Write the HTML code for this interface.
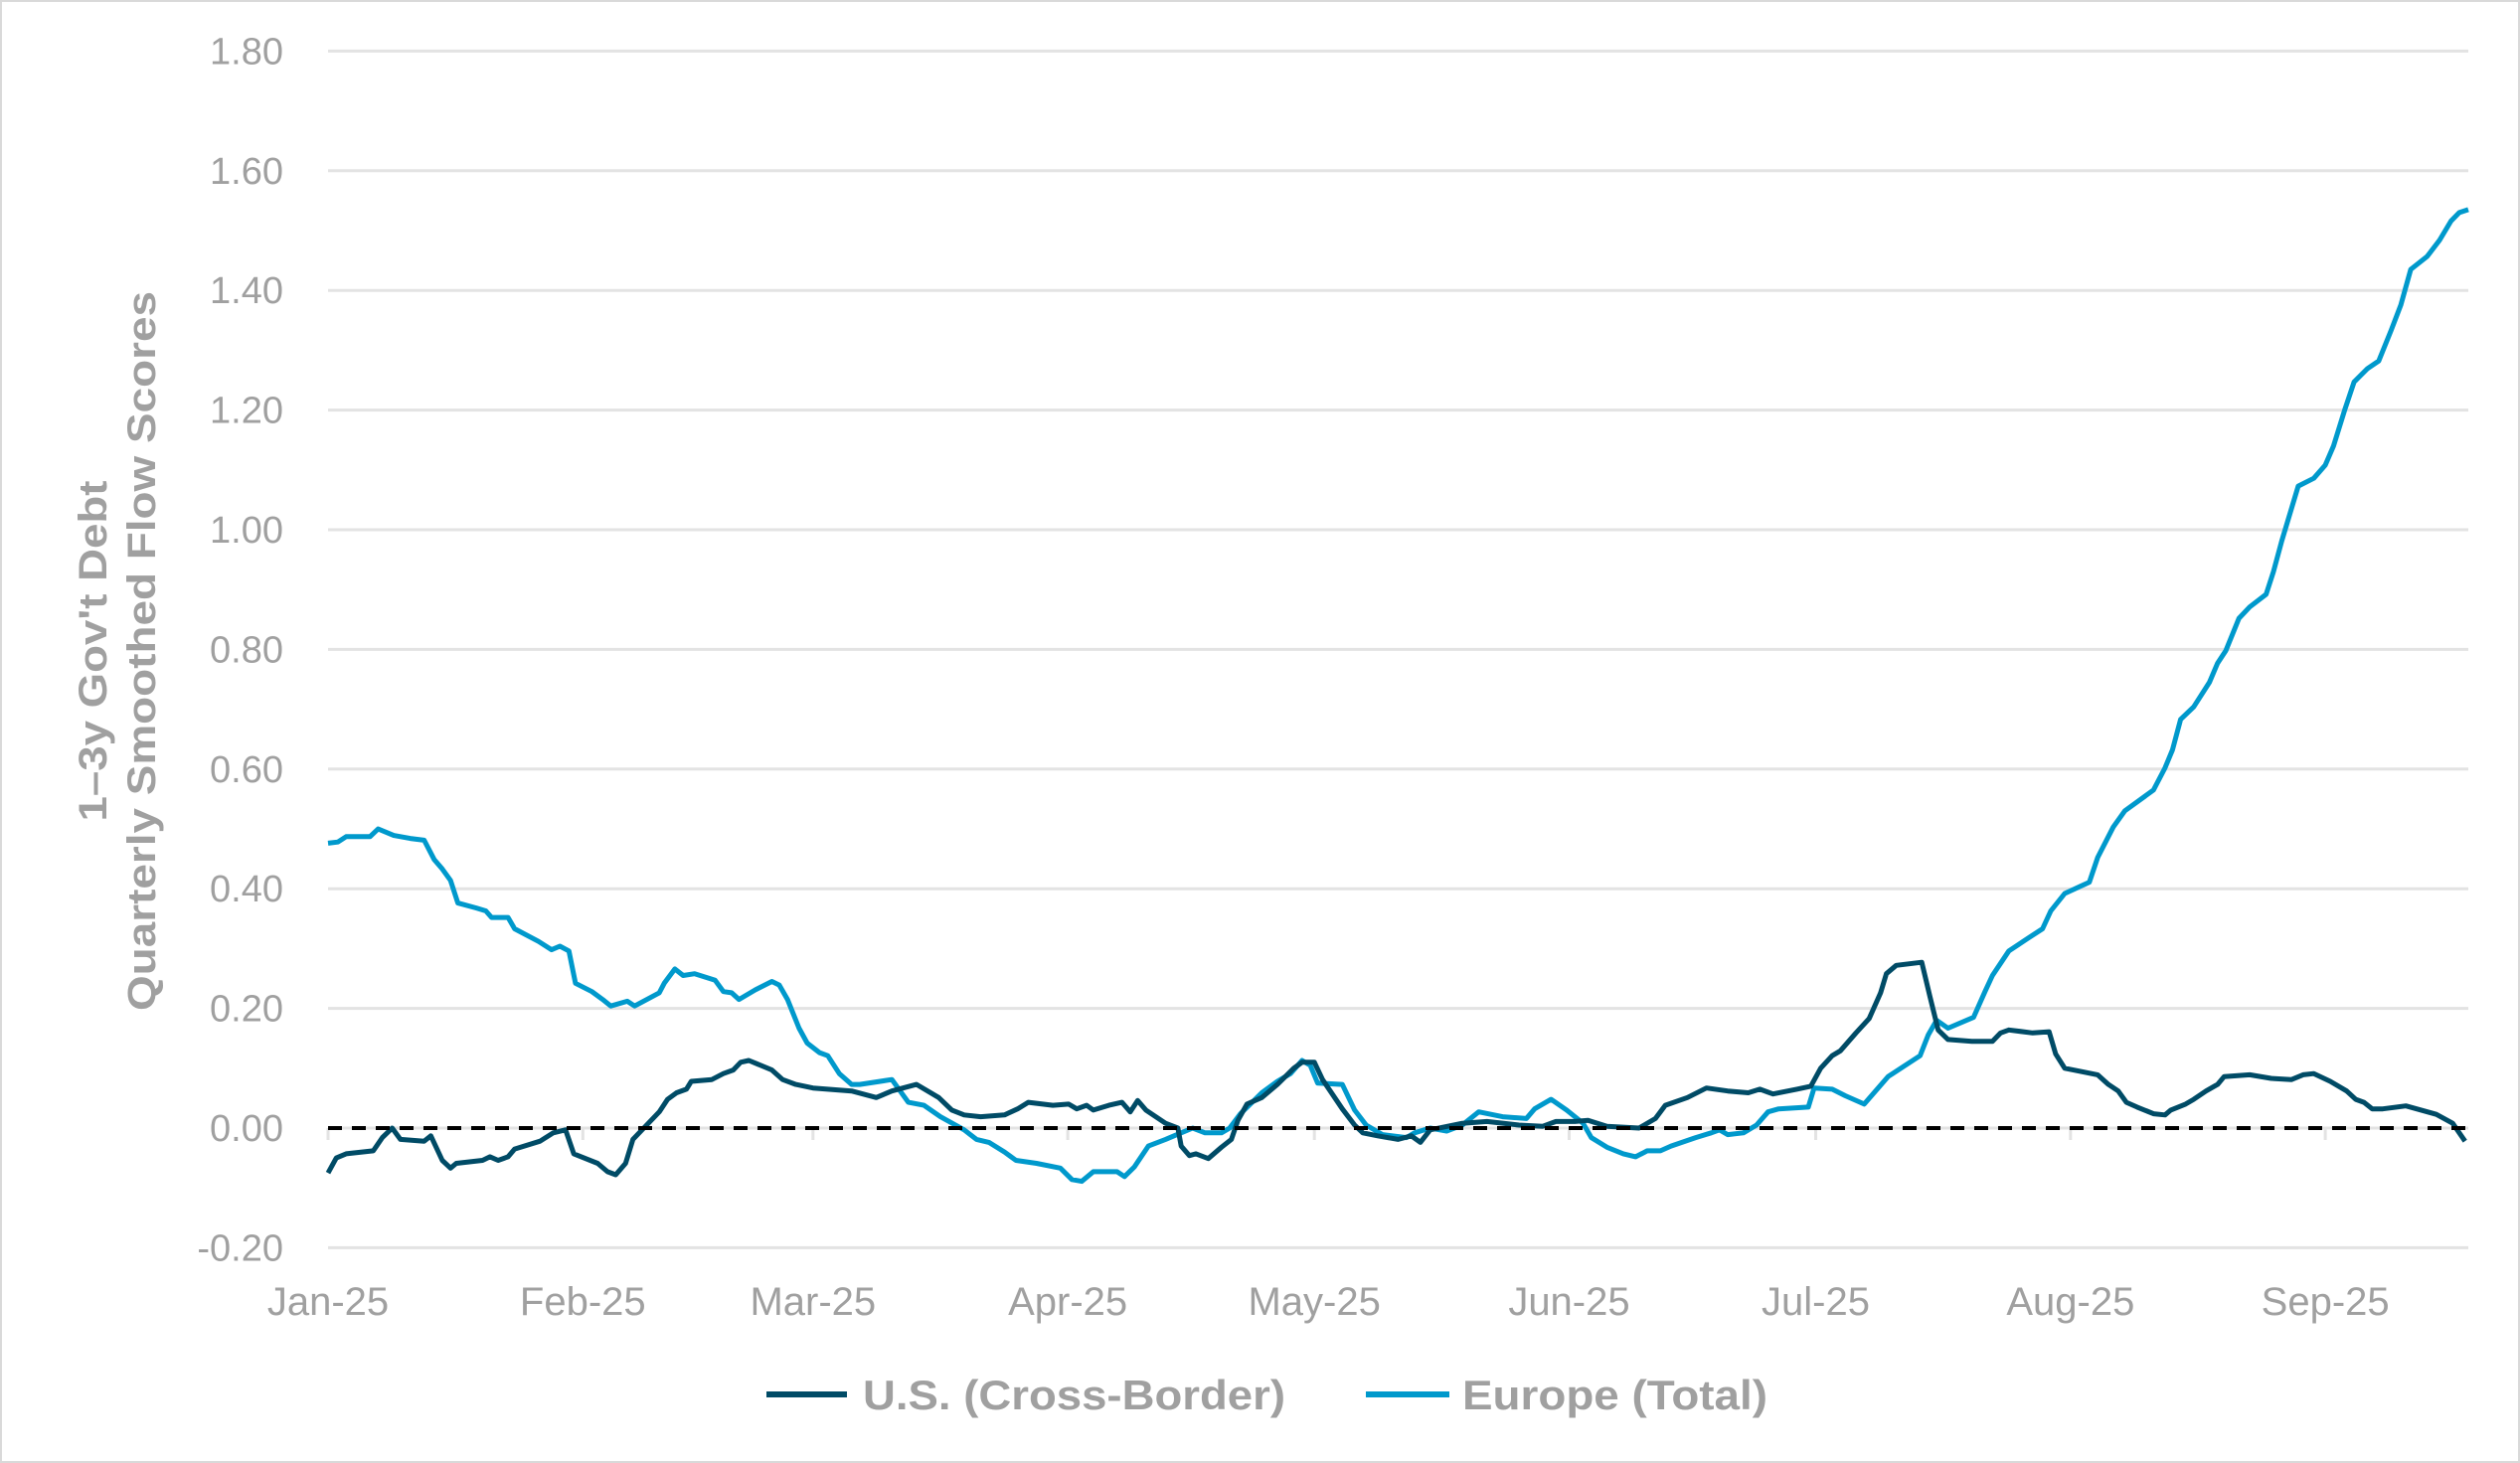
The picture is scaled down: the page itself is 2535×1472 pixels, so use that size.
<!DOCTYPE html>
<html><head><meta charset="utf-8"><style>
html,body{margin:0;padding:0;background:#fff;}
svg{display:block;}
</style></head><body>
<svg id="chart" width="2535" height="1472" viewBox="0 0 2535 1472" xmlns="http://www.w3.org/2000/svg">
<rect x="1" y="1" width="2533" height="1470" fill="#fff" stroke="#d9d9d9" stroke-width="2"/>
<g id="grid"></g>
<g id="yticks"></g>
<g id="xticks"></g>
<g id="series"></g>
<g font-family="'Liberation Sans Narrow','Liberation Sans',sans-serif" font-weight="bold" font-size="40" fill="#a0a0a0" text-anchor="middle">
<text transform="translate(107,655) rotate(-90)" textLength="343" lengthAdjust="spacingAndGlyphs">1–3y Gov't Debt</text>
<text transform="translate(156,655) rotate(-90)" textLength="724" lengthAdjust="spacingAndGlyphs">Quarterly Smoothed Flow Scores</text>
</g>
<g font-family="'Liberation Sans',sans-serif" font-weight="bold" font-size="42" fill="#a0a0a0">
<g>
<line x1="771" y1="1403" x2="852" y2="1403" stroke="#004b66" stroke-width="6"/>
<text x="868" y="1418" textLength="425" lengthAdjust="spacingAndGlyphs">U.S. (Cross-Border)</text>
</g>
<g>
<line x1="1374" y1="1403" x2="1458" y2="1403" stroke="#0099cc" stroke-width="6"/>
<text x="1471" y="1418" textLength="307" lengthAdjust="spacingAndGlyphs">Europe (Total)</text>
</g>
</g>
</svg>
<script>
const yTickValues=[-0.2,0,0.2,0.4,0.6,0.8,1.0,1.2,1.4,1.6,1.8];
const monthLabels=["Jan-25","Feb-25","Mar-25","Apr-25","May-25","Jun-25","Jul-25","Aug-25","Sep-25"];
const monthStartDays=[0,31,59,90,120,151,181,212,243];
const usDays=[0,1,2.2,5.5,6.6,7.8,8.8,11.7,12.5,13.9,14.9,15.6,18.8,19.7,20.7,21.9,22.7,25.8,27.4,28.9,29.9,32.8,34,35,36.2,37.1,40.3,41.3,42.4,43.6,44.2,46.7,48.1,49.3,50.2,51.2,54,55.3,56.9,59,63.7,66.7,68.6,71.6,74.3,75.9,77.4,79.4,82.3,83.9,85.2,88.2,90.1,91.1,92.3,93.1,95,96.6,97.6,98.5,99.5,101.9,103.4,103.8,104.8,105.6,107.1,108.7,109.9,110.7,111.8,113.6,115.5,117.5,118.5,120,121,123.4,124.9,125.9,127.7,130.2,131.8,132.9,134.1,138,141,144.9,147.8,149.4,151.7,153.3,155.6,159.5,161.5,162.7,165.4,167.7,170.3,172.8,174.2,175.8,178.7,180.4,181.6,183,184,185.9,187.5,188.9,189.6,190.8,193.9,194.9,195.9,197.1,200,202.5,203.5,204.5,207.4,209.4,210.2,211.3,213.5,215.3,216.6,217.8,218.8,220.1,222.1,223.5,224.2,226,227,228.5,229.9,230.7,233.8,236.4,238.9,240.3,241.6,243.6,245.6,246.7,247.7,248.7,250,252.8,256.5,258.5,260];
const usValues=[-0.075,-0.05,-0.043,-0.038,-0.016,0,-0.019,-0.022,-0.013,-0.054,-0.067,-0.059,-0.054,-0.048,-0.054,-0.048,-0.035,-0.022,-0.008,-0.003,-0.043,-0.059,-0.073,-0.078,-0.059,-0.019,0.027,0.048,0.059,0.065,0.078,0.081,0.091,0.097,0.11,0.113,0.097,0.081,0.073,0.067,0.062,0.051,0.062,0.073,0.051,0.03,0.022,0.019,0.022,0.032,0.043,0.038,0.04,0.032,0.038,0.03,0.038,0.043,0.027,0.046,0.03,0.008,0,-0.03,-0.046,-0.043,-0.051,-0.032,-0.019,0.013,0.04,0.051,0.073,0.1,0.11,0.11,0.081,0.032,0.005,-0.008,-0.013,-0.019,-0.013,-0.024,-0.003,0.008,0.011,0.005,0.003,0.011,0.011,0.013,0.003,0,0.016,0.038,0.051,0.067,0.062,0.059,0.065,0.057,0.065,0.07,0.1,0.121,0.129,0.159,0.183,0.226,0.258,0.272,0.277,0.22,0.164,0.148,0.145,0.145,0.159,0.164,0.159,0.161,0.124,0.1,0.094,0.089,0.073,0.062,0.043,0.035,0.024,0.022,0.03,0.04,0.048,0.062,0.073,0.086,0.089,0.083,0.081,0.089,0.091,0.078,0.062,0.048,0.043,0.032,0.032,0.037,0.023,0.008,-0.022];
const euDays=[0,1.2,2.2,5.1,6.1,8,10,11.7,12.9,13.9,14.9,15.8,18,19.2,19.9,21.9,22.7,25.6,27.2,28.2,29.3,30.1,32.1,33.4,34.4,36.4,37.3,40.3,40.9,42.2,43.2,44.6,47.1,48.1,49.1,50,52,54,54.9,55.9,57.3,58.3,59.8,60.8,62.2,63.7,64.7,68.6,70.6,72.5,74.5,77.4,78.9,80.4,82.3,83.7,86.2,89.1,90.5,91.7,93.1,96,96.9,98.1,99.8,101.9,103.8,105.2,106.7,108.7,109.7,111,113.6,115.5,117.1,118.5,119.5,120.4,123.4,124.9,126.3,128.3,131.2,132.2,134.1,136.1,138,140,142.9,145.8,146.8,148.8,150.7,152.7,153.7,155.6,157.6,159.1,160.5,162.1,163.4,166.4,168.3,169.3,170.3,172.2,173.8,175.2,176.5,180.1,180.8,183,184.6,186.9,189.8,193.7,194.7,195.7,197.1,200.2,201.6,202.5,204.5,206.8,208.6,209.6,211.3,214.3,215.3,217.2,218.6,222.1,223.5,224.4,225.4,227,228.9,229.9,230.9,232.5,233.8,235.8,236.7,237.7,239.7,241.6,243,244,245.4,246.5,248.1,249.5,251,252.2,253.4,255.4,256.9,258.3,259.3,260.4];
const euValues=[0.476,0.478,0.487,0.487,0.5,0.489,0.484,0.481,0.449,0.433,0.414,0.376,0.368,0.363,0.352,0.352,0.333,0.312,0.298,0.304,0.296,0.242,0.228,0.215,0.204,0.212,0.204,0.226,0.242,0.266,0.255,0.258,0.247,0.228,0.226,0.215,0.231,0.245,0.239,0.215,0.167,0.142,0.126,0.121,0.091,0.073,0.073,0.081,0.043,0.038,0.019,-0.003,-0.019,-0.024,-0.04,-0.054,-0.059,-0.067,-0.086,-0.089,-0.073,-0.073,-0.081,-0.065,-0.03,-0.019,-0.008,0,-0.008,-0.008,0,0.024,0.059,0.078,0.091,0.113,0.105,0.075,0.073,0.03,0.005,-0.011,-0.016,-0.008,0,-0.005,0.005,0.027,0.019,0.016,0.032,0.048,0.03,0.008,-0.016,-0.032,-0.043,-0.048,-0.038,-0.038,-0.03,-0.016,-0.008,-0.003,-0.011,-0.008,0.005,0.027,0.032,0.035,0.067,0.065,0.054,0.04,0.086,0.121,0.156,0.18,0.167,0.185,0.228,0.255,0.296,0.317,0.333,0.363,0.392,0.411,0.452,0.503,0.53,0.565,0.602,0.632,0.683,0.704,0.745,0.777,0.798,0.852,0.871,0.892,0.93,0.981,1.073,1.086,1.108,1.14,1.202,1.247,1.269,1.282,1.333,1.376,1.435,1.457,1.484,1.516,1.53,1.535];

const NS='http://www.w3.org/2000/svg';
const X0=330,X1=2483,DMAX=260.4,Y0=1135,PX_PER_UNIT=602;
function xScale(d){return X0+(d/DMAX)*(X1-X0);}
function yScale(v){return Y0-v*PX_PER_UNIT;}
function mk(tag,attrs,parent){const e=document.createElementNS(NS,tag);for(const k in attrs)e.setAttribute(k,attrs[k]);parent.appendChild(e);return e;}
const grid=document.getElementById('grid'),yt=document.getElementById('yticks'),xt=document.getElementById('xticks'),ser=document.getElementById('series');
yTickValues.forEach(v=>{
  const l=mk('line',{x1:X0,x2:X1,y1:yScale(v),y2:yScale(v),stroke:'#e3e3e3','stroke-width':3},grid);
  
  
  const t=mk('text',{x:285,y:yScale(v)+13,'text-anchor':'end','font-family':"'Liberation Sans',sans-serif",'font-size':38,fill:'#a0a0a0'},yt);
  t.textContent=v.toFixed(2);
  
  
});
monthLabels.forEach((m,i)=>{
  const x=xScale(monthStartDays[i]);
  const tk=mk('line',{x1:x,x2:x,y1:Y0,y2:Y0+12,stroke:'#e3e3e3','stroke-width':3},xt);
  
  
  const t=mk('text',{x:x,y:1323,'text-anchor':'middle','font-family':"'Liberation Sans',sans-serif",'font-size':40,fill:'#a0a0a0'},xt);
  t.textContent=m;
  
  
});
function path(days,vals){return days.map((d,i)=>(i?'L':'M')+xScale(d).toFixed(1)+','+yScale(vals[i]).toFixed(1)).join(' ');}
const pe=mk('path',{d:path(euDays,euValues),fill:'none',stroke:'#0099cc','stroke-width':5,'stroke-linejoin':'round'},ser);


const pu=mk('path',{d:path(usDays,usValues),fill:'none',stroke:'#004b66','stroke-width':5,'stroke-linejoin':'round'},ser);


const z=mk('line',{x1:X0,x2:X1,y1:yScale(0),y2:yScale(0),stroke:'#000','stroke-width':4,'stroke-dasharray':'14 10'},ser);


</script>
</body></html>
